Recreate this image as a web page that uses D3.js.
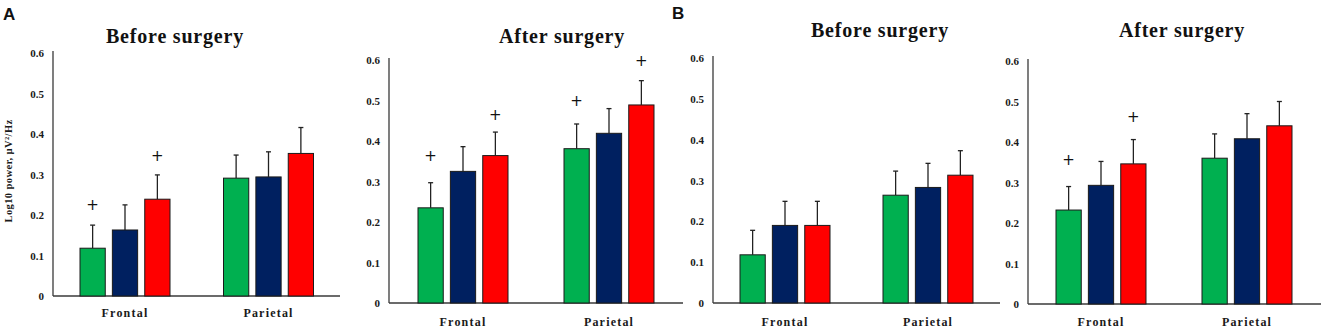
<!DOCTYPE html>
<html>
<head>
<meta charset="utf-8">
<script src="https://cdn.jsdelivr.net/npm/d3@7"></script>
<style>
  body { margin: 0; background: #fff; }
  svg { display: block; }
  .tick-label { font-family: "Liberation Serif", "Times New Roman", serif; font-weight: bold; font-size: 11px; fill: #1a1a1a; }
  .cat-label { font-family: "Liberation Serif", "Times New Roman", serif; font-weight: bold; font-size: 12px; letter-spacing: 1.2px; fill: #1a1a1a; }
  .title { font-family: "Liberation Serif", "Times New Roman", serif; font-weight: bold; font-size: 20px; letter-spacing: 0.8px; fill: #111; }
  .letter { font-family: "Liberation Sans", Arial, sans-serif; font-weight: bold; font-size: 17px; fill: #111; }
  .plus { font-family: "DejaVu Sans", sans-serif; font-size: 15px; fill: #111; }
</style>
</head>
<body>
<script>
const width = 1325, height = 331;

// categories and series
const regions = ["Frontal", "Parietal"];
const series = ["s1", "s2", "s3"];
const seriesColors = ["#00b050", "#002060", "#ff0000"];
const yTicks = [0, 0.1, 0.2, 0.3, 0.4, 0.5, 0.6];
const panelTitles = ["Before surgery", "After surgery", "Before surgery", "After surgery"];
const panelLetters = ["A", null, "B", null];

// means per panel: [Frontal series 1..3], [Parietal series 1..3]
const meansABefore = [[0.118, 0.163, 0.239], [0.291, 0.294, 0.352]];
const meansAAfter  = [[0.235, 0.325, 0.364], [0.381, 0.419, 0.489]];
const meansBBefore = [[0.118, 0.190, 0.190], [0.264, 0.283, 0.313]];
const meansBAfter  = [[0.232, 0.293, 0.346], [0.360, 0.408, 0.440]];

// error bar sizes (upper)
const errABefore = [[0.057, 0.062, 0.060], [0.057, 0.062, 0.064]];
const errAAfter  = [[0.062, 0.061, 0.058], [0.061, 0.061, 0.060]];
const errBBefore = [[0.060, 0.059, 0.059], [0.059, 0.059, 0.060]];
const errBAfter  = [[0.058, 0.059, 0.060], [0.060, 0.062, 0.060]];

// "+" markers: [region index, series index, level]
const plusABefore = [[0, 0, 0.225], [0, 2, 0.346]];
const plusAAfter  = [[0, 0, 0.362], [0, 2, 0.463], [1, 0, 0.500], [1, 2, 0.597]];
const plusBBefore = [];
const plusBAfter  = [[0, 0, 0.356], [0, 2, 0.461]];

const panelMeans = [meansABefore, meansAAfter, meansBBefore, meansBAfter];
const panelErrs = [errABefore, errAAfter, errBBefore, errBAfter];
const panelPlus = [plusABefore, plusAAfter, plusBBefore, plusBAfter];

// layout of each panel
const layout = [
  { axisX: 53,   xEnd: 340,  y0: 296, yTop: 53, centers: [125, 268.5], titleX: 175,  titleY: 43, catY: 317, letterX: 3, letterY: 20 },
  { axisX: 389,  xEnd: 683,  y0: 303, yTop: 60, centers: [463, 609],   titleX: 562,  titleY: 43, catY: 326 },
  { axisX: 713,  xEnd: 1000, y0: 303, yTop: 58, centers: [785, 928],   titleX: 880,  titleY: 37, catY: 326, letterX: 672, letterY: 19 },
  { axisX: 1028, xEnd: 1321, y0: 304, yTop: 61, centers: [1101, 1247], titleX: 1182, titleY: 37, catY: 326 }
];

const svg = d3.select("body").append("svg")
    .attr("width", width)
    .attr("height", height);

layout.forEach(function (L, p) {
    const g = svg.append("g").attr("class", "panel");

    const yScale = d3.scaleLinear().domain([0, 0.6]).range([L.y0, L.yTop]);
    const xScale = d3.scaleOrdinal().domain(regions).range(L.centers);
    const inner = d3.scaleBand().domain(series).range([-45, 45]).paddingInner(0.22).paddingOuter(0);

    // y axis (labels only, no ticks)
    const yAxis = d3.axisLeft(yScale)
        .tickValues(yTicks)
        .tickSize(0)
        .tickPadding(9)
        .tickFormat(function (d) { return d === 0 ? "0" : d3.format(".1f")(d); });

    const ya = g.append("g")
        .attr("transform", "translate(" + L.axisX + ",0)")
        .call(yAxis)
        .attr("font-family", null).attr("font-size", null);
    ya.select(".domain").remove();
    ya.selectAll("text").attr("class", "tick-label").attr("fill", null);

    g.append("line")
        .attr("x1", L.axisX).attr("x2", L.axisX)
        .attr("y1", yScale(0.6) - 2).attr("y2", L.y0)
        .attr("stroke", "#3a3a3a").attr("stroke-width", 1.3);

    // x axis line
    g.append("line")
        .attr("x1", L.axisX).attr("x2", L.xEnd)
        .attr("y1", L.y0).attr("y2", L.y0)
        .attr("stroke", "#3a3a3a").attr("stroke-width", 1.3);

    // category labels
    g.selectAll(".cat-label")
        .data(regions)
        .enter().append("text")
        .attr("class", "cat-label")
        .attr("x", function (d) { return xScale(d); })
        .attr("y", L.catY)
        .attr("text-anchor", "middle")
        .text(function (d) { return d; });

    // bars + error bars
    const rows = [];
    regions.forEach(function (r, ri) {
        series.forEach(function (s, si) {
            rows.push({ region: r, s: s, si: si, v: panelMeans[p][ri][si], e: panelErrs[p][ri][si] });
        });
    });

    const barX = function (d) { return xScale(d.region) + inner(d.s); };

    g.selectAll(".err")
        .data(rows)
        .enter().append("line")
        .attr("class", "err")
        .attr("x1", function (d) { return barX(d) + inner.bandwidth() / 2; })
        .attr("x2", function (d) { return barX(d) + inner.bandwidth() / 2; })
        .attr("y1", function (d) { return yScale(d.v); })
        .attr("y2", function (d) { return yScale(d.v + d.e); })
        .attr("stroke", "#222").attr("stroke-width", 1.3);

    g.selectAll(".cap")
        .data(rows)
        .enter().append("line")
        .attr("class", "cap")
        .attr("x1", function (d) { return barX(d) + inner.bandwidth() / 2 - 2.5; })
        .attr("x2", function (d) { return barX(d) + inner.bandwidth() / 2 + 2.5; })
        .attr("y1", function (d) { return yScale(d.v + d.e); })
        .attr("y2", function (d) { return yScale(d.v + d.e); })
        .attr("stroke", "#222").attr("stroke-width", 1.3);

    g.selectAll(".bar")
        .data(rows)
        .enter().append("rect")
        .attr("class", "bar")
        .attr("x", barX)
        .attr("y", function (d) { return yScale(d.v); })
        .attr("width", inner.bandwidth())
        .attr("height", function (d) { return L.y0 - yScale(d.v); })
        .attr("fill", function (d) { return seriesColors[d.si]; })
        .attr("stroke", "#1a1a1a").attr("stroke-width", 1);

    // plus markers
    g.selectAll(".plus")
        .data(panelPlus[p])
        .enter().append("text")
        .attr("class", "plus")
        .attr("x", function (d) { return xScale(regions[d[0]]) + inner(series[d[1]]) + inner.bandwidth() / 2; })
        .attr("y", function (d) { return yScale(d[2]); })
        .attr("text-anchor", "middle")
        .attr("dominant-baseline", "central")
        .text("+");

    // title
    g.append("text")
        .attr("class", "title")
        .attr("x", L.titleX)
        .attr("y", L.titleY)
        .attr("text-anchor", "middle")
        .text(panelTitles[p]);

    if (panelLetters[p]) {
        g.append("text")
            .attr("class", "letter")
            .attr("x", L.letterX)
            .attr("y", L.letterY)
            .text(panelLetters[p]);
    }
});

// y axis label (only on first panel)
svg.append("text")
    .attr("class", "tick-label")
    .attr("transform", "translate(12,171) rotate(-90)")
    .attr("text-anchor", "middle")
    .style("font-size", "10.5px")
    .style("letter-spacing", "0.4px")
    .text("Log10 power, \u00b5V\u00b2/Hz");
</script>
</body>
</html>
